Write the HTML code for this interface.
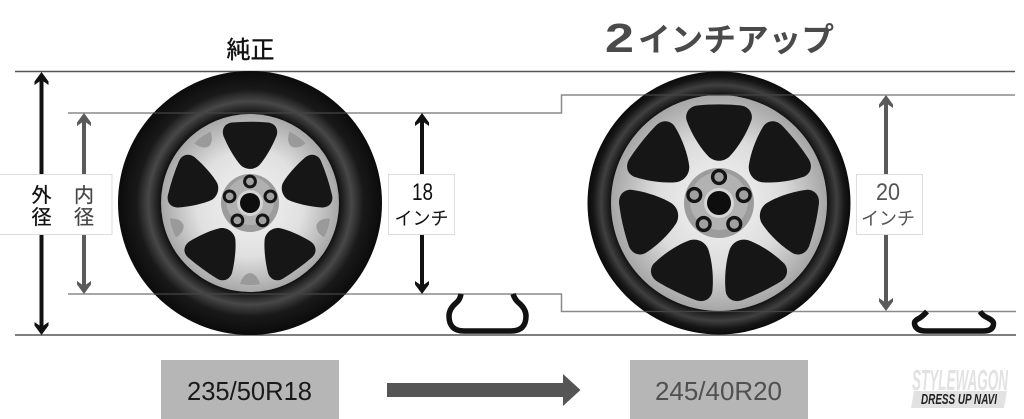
<!DOCTYPE html>
<html lang="ja"><head><meta charset="utf-8"><style>
html,body{margin:0;padding:0;background:#fff}
svg{display:block}
text{font-family:"Liberation Sans","Noto Sans CJK JP",sans-serif}
</style></head><body>
<svg xmlns="http://www.w3.org/2000/svg" width="1024" height="419" viewBox="0 0 1024 419">
<defs>
<radialGradient id="tireL" gradientUnits="userSpaceOnUse" cx="0" cy="0" r="132">
<stop offset="0" stop-color="#111"/><stop offset=".68" stop-color="#131313"/><stop offset=".77" stop-color="#484848"/><stop offset=".86" stop-color="#191919"/><stop offset="1" stop-color="#0b0b0b"/>
</radialGradient>
<radialGradient id="tireR" gradientUnits="userSpaceOnUse" cx="0" cy="0" r="131">
<stop offset="0" stop-color="#111"/><stop offset=".83" stop-color="#151515"/><stop offset=".9" stop-color="#404040"/><stop offset=".96" stop-color="#161616"/><stop offset="1" stop-color="#0b0b0b"/>
</radialGradient>
<radialGradient id="rimL" gradientUnits="userSpaceOnUse" cx="0" cy="0" r="89">
<stop offset="0" stop-color="#f4f4f4"/><stop offset=".6" stop-color="#e0e0e0"/><stop offset="1" stop-color="#a8a8a8"/>
</radialGradient>
<radialGradient id="rimR" gradientUnits="userSpaceOnUse" cx="0" cy="0" r="108">
<stop offset="0" stop-color="#f6f6f6"/><stop offset=".6" stop-color="#dcdcdc"/><stop offset="1" stop-color="#a6a6a6"/>
</radialGradient>
<path id="winL" d="M-18-80.500C-6-81.500 6-81.500 18-80.500C26-79.500 28.500-73 26.500-67C22-56 15-44 9-37.500C4-33-4-33-9-37.500C-15-44-22-56-26.500-67C-28.500-73-26-79.500-18-80.500Z" fill="#161616"/>
<path id="winR" d="M-22-97.500C-8-99 8-99 22-97.500C31-96 34-89 32.500-83C28-70 19-55 10-46C4-41-4-41-10-46C-19-55-28-70-32.500-83C-34-89-31-96-22-97.500Z" fill="#161616"/>
</defs>

<!-- background lines -->
<g fill="none" stroke="#8a8a8a" stroke-width="1.500">
<path d="M68 113H561.500V95H1015"/>
<path d="M68 294H561.500V311.500H1016"/>
</g>
<g stroke="#555" stroke-width="1.500">
<path d="M15 71.500H1015"/>
<path d="M15 335H1016"/>
</g>

<!-- left wheel -->
<g transform="translate(250 203)">
<circle r="132" fill="url(#tireL)"/>
<circle r="89" fill="url(#rimL)"/>
<use href="#winL"/><use href="#winL" transform="rotate(72)"/><use href="#winL" transform="rotate(144)"/><use href="#winL" transform="rotate(216)"/><use href="#winL" transform="rotate(288)"/>
<path d="M-10 81Q-7 71 0 70Q7 71 10 81Q0 83-10 81Z" fill="#9a9a9a" id="t0"/>
<use href="#t0" transform="rotate(72)"/><use href="#t0" transform="rotate(144)"/><use href="#t0" transform="rotate(216)"/><use href="#t0" transform="rotate(288)"/>
<circle r="29" fill="#9c9c9c"/>
<circle r="24" cy="-2" fill="#b0b0b0"/>
<circle r="13" fill="#d4d4d4"/>
<circle r="10" fill="#0e0e0e"/>
<g fill="#a0a0a0" stroke="#141414" stroke-width="3">
<circle cx="0" cy="-21.500" r="5.400"/><circle cx="20.400" cy="-6.600" r="5.400"/><circle cx="12.600" cy="17.400" r="5.400"/><circle cx="-12.600" cy="17.400" r="5.400"/><circle cx="-20.400" cy="-6.600" r="5.400"/>
</g>
</g>

<!-- right wheel -->
<g transform="translate(719 203)">
<circle r="131.500" fill="url(#tireR)"/>
<circle r="108" fill="url(#rimR)"/>
<use href="#winR"/><use href="#winR" transform="rotate(51.430)"/><use href="#winR" transform="rotate(102.860)"/><use href="#winR" transform="rotate(154.290)"/><use href="#winR" transform="rotate(205.710)"/><use href="#winR" transform="rotate(257.140)"/><use href="#winR" transform="rotate(308.570)"/>
<circle r="35" fill="#9c9c9c"/>
<circle r="29" cy="-2" fill="#b2b2b2"/>
<circle r="15" fill="#d6d6d6"/>
<circle r="12" fill="#0e0e0e"/>
<g fill="#a0a0a0" stroke="#141414" stroke-width="3.400">
<circle cx="0" cy="-26" r="6.400"/><circle cx="24.700" cy="-8" r="6.400"/><circle cx="15.300" cy="21" r="6.400"/><circle cx="-15.300" cy="21" r="6.400"/><circle cx="-24.700" cy="-8" r="6.400"/>
</g>
</g>

<!-- lines over tyres -->
<g stroke="#444" stroke-width="1.300">
<path d="M154 113H346"/><path d="M154 294H346"/>
<path d="M645 95H793"/><path d="M645 311.500H793"/>
</g>

<!-- dimension arrows -->
<g stroke-width="4" fill="none">
<path d="M41.500 76V331" stroke="#111"/>
<path d="M84 117V290" stroke="#5a5a5a"/>
<path d="M422 117V290" stroke="#111"/>
<path d="M886 99V307" stroke="#5a5a5a"/>
</g>
<g fill="#111">
<path d="M41.500 72L48.500 81.500L48.500 85L41.500 80L34.500 85L34.500 81.500Z"/>
<path d="M41.500 335L48.500 325.500L48.500 322L41.500 327L34.500 322L34.500 325.500Z"/>
<path d="M422 113L429 122.500L429 126L422 121L415 126L415 122.500Z"/>
<path d="M422 294L429 284.500L429 281L422 286L415 281L415 284.500Z"/>
</g>
<g fill="#5a5a5a">
<path d="M84 113L91 122.500L91 126L84 121L77 126L77 122.500Z"/>
<path d="M84 294L91 284.500L91 281L84 286L77 281L77 284.500Z"/>
<path d="M886 95L893 104.500L893 108L886 103L879 108L879 104.500Z"/>
<path d="M886 311L893 301.500L893 298L886 303L879 298L879 301.500Z"/>
</g>

<!-- label boxes -->
<rect x="-2" y="174.500" width="114" height="60" fill="#fff" stroke="#dcdcdc"/>
<rect x="388.500" y="174.500" width="66" height="60" fill="#fff" stroke="#dcdcdc"/>
<rect x="856.500" y="174.500" width="66" height="60" fill="#fff" stroke="#dcdcdc"/>

<g font-size="20" text-anchor="middle">
<text x="41.500" y="202" fill="#111" stroke="#111" stroke-width=".3">外</text>
<text x="41.500" y="224" fill="#111" stroke="#111" stroke-width=".3">径</text>
<text x="84" y="202" fill="#444" stroke="#444" stroke-width=".2">内</text>
<text x="84" y="224" fill="#444" stroke="#444" stroke-width=".2">径</text>
</g>
<g text-anchor="middle">
<text x="422.500" y="200" font-size="24" fill="#111" textLength="21" lengthAdjust="spacingAndGlyphs">18</text>
<text x="421.500" y="225" font-size="18.500" fill="#111" textLength="54" lengthAdjust="spacingAndGlyphs">インチ</text>
<text x="888" y="200" font-size="24" fill="#555" textLength="24" lengthAdjust="spacingAndGlyphs">20</text>
<text x="888" y="225" font-size="18.500" fill="#555" textLength="54" lengthAdjust="spacingAndGlyphs">インチ</text>
</g>

<!-- titles -->
<text x="250.500" y="58" font-size="24" text-anchor="middle" fill="#111" stroke="#111" stroke-width=".4">純正</text>
<text y="52" fill="#4a4a4a" font-weight="700"><tspan x="605" font-size="41" textLength="29" lengthAdjust="spacingAndGlyphs">2</tspan><tspan x="638" dy="-1" font-size="32.500" textLength="196" lengthAdjust="spacingAndGlyphs">インチアップ</tspan></text>

<!-- small tyre profiles -->
<g fill="none" stroke="#111" stroke-width="5.500">
<path d="M461 294Q460 300 456 303Q449 309 449 316Q449 331 464 331H511Q526 331 526 316Q526 309 519 303Q515 300 513 294"/>
<path d="M927 311.500Q922 317 918 319Q914 321 914.500 324Q916 331 926 331H983Q993 331 993.500 324Q994 321 988 318Q983 316 980 311.500"/>
</g>

<!-- size boxes -->
<rect x="161" y="360" width="178" height="59" fill="#b6b6b6"/>
<rect x="630" y="360" width="178" height="59" fill="#b6b6b6"/>
<text x="249.500" y="400" font-size="26" text-anchor="middle" fill="#1a1a1a" textLength="125" lengthAdjust="spacingAndGlyphs">235/50R18</text>
<text x="718.500" y="400" font-size="26" text-anchor="middle" fill="#505050" textLength="127" lengthAdjust="spacingAndGlyphs">245/40R20</text>

<!-- big arrow -->
<path d="M387 383H563V374L580.500 390L563 406V397H387Z" fill="#555"/>

<!-- logo -->
<text x="960" y="390" font-size="29" font-weight="700" font-style="italic" text-anchor="middle" fill="#e2e2e2" textLength="96" lengthAdjust="spacingAndGlyphs">STYLEWAGON</text>
<path d="M914 391H1007L1004 408H911Z" fill="#e2e2e2"/>
<text x="959" y="404" font-size="15" font-weight="700" font-style="italic" text-anchor="middle" fill="#222" textLength="76" lengthAdjust="spacingAndGlyphs">DRESS UP NAVI</text>
</svg>
</body></html>
